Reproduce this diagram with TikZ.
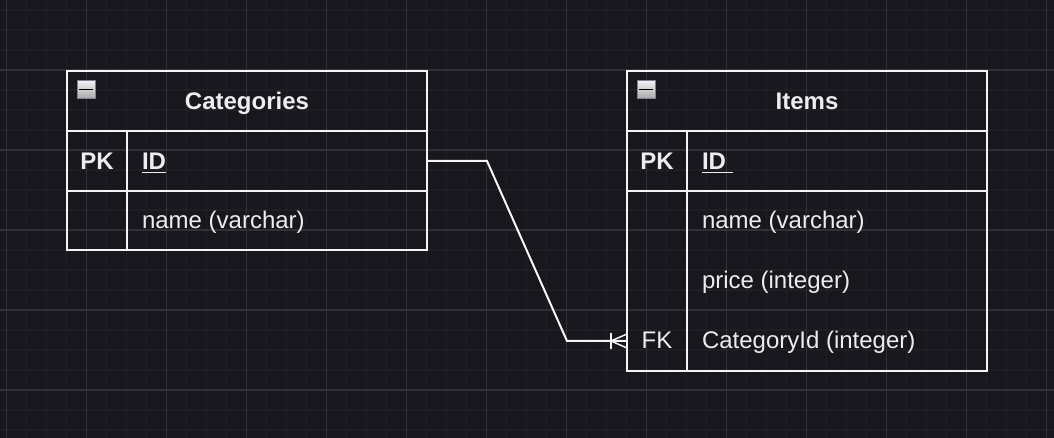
\documentclass[tikz,border=0pt]{standalone}
\usepackage{fontspec}
\setmainfont{Liberation Sans}
\usetikzlibrary{calc}
\definecolor{bgc}{HTML}{18171D}
\definecolor{minorc}{HTML}{1F1E24}
\definecolor{majorc}{HTML}{323137}
\definecolor{linec}{HTML}{F4F4F4}
\definecolor{txtc}{HTML}{EDEDED}
\definecolor{icontop}{HTML}{F2F2F2}
\definecolor{iconbot}{HTML}{A8A8A8}
\definecolor{iconborder}{HTML}{7C8494}
\tikzset{
  cell/.style={draw=linec, line width=1.5pt, anchor=north west, inner sep=0pt, outer sep=0pt},
  txt/.style={text=txtc, inner sep=0pt, outer sep=0pt, font=\fontsize{18}{21}\selectfont},
  bold/.style={txt, font=\fontsize{18}{21}\selectfont\bfseries},
  conn/.style={draw=linec, line width=1.5pt},
  icon/.style={draw=iconborder, line width=1pt, top color=icontop, bottom color=iconbot, anchor=north west, minimum width=13.5pt, minimum height=13.5pt, inner sep=0pt}
}
\begin{document}
\begin{tikzpicture}[x=0.75pt, y=-0.75pt]
\fill[bgc] (0,0) rectangle (1054,438);
\useasboundingbox (0,0) rectangle (1054,438);
% grid
\foreach \i in {0,...,52} {\draw[minorc, line width=1pt] ({6.7+20*\i},0) -- ({6.7+20*\i},438);}
\foreach \j in {0,...,21} {\draw[minorc, line width=1pt] (0,{10+20*\j}) -- (1054,{10+20*\j});}
\foreach \i in {0,...,13} {\draw[majorc, line width=1pt] ({6.7+80*\i},0) -- ({6.7+80*\i},438);}
\foreach \j in {0,...,5} {\draw[majorc, line width=1pt] (0,{70+80*\j}) -- (1054,{70+80*\j});}

% Categories table
\node[cell, minimum width=270pt, minimum height=45pt] (cathead) at (67,71) {};
\node[cell, minimum width=45pt, minimum height=45pt] (catpkk) at (67,131) {};
\node[cell, minimum width=225pt, minimum height=45pt] (catpkf) at (127,131) {};
\node[cell, minimum width=45pt, minimum height=44.25pt] (catnk) at (67,191) {};
\node[cell, minimum width=225pt, minimum height=44.25pt] (catnf) at (127,191) {};
\node[icon] (caticon) at (76.5,80) {};
\draw[black, line width=1.2pt] ([xshift=2pt]caticon.west) -- ([xshift=-2pt]caticon.east);
\node[bold, anchor=base] (cattitle) at (247,109.5) {Categories};
\node[bold, anchor=base] (catpkt) at (97,169.5) {PK};
\node[bold, anchor=base west] (catidt) at (142,169.5) {ID};
\draw[txtc, line width=1.2pt] ([yshift=-2.3pt]catidt.base west) -- ([yshift=-2.3pt]catidt.base east);
\node[txt, anchor=base west] (catname) at (142,229) {name (varchar)};

% Items table
\node[cell, minimum width=270pt, minimum height=45pt] (ithead) at (627,71) {};
\node[cell, minimum width=45pt, minimum height=45pt] (itpkk) at (627,131) {};
\node[cell, minimum width=225pt, minimum height=45pt] (itpkf) at (687,131) {};
\node[cell, minimum width=45pt, minimum height=135pt] (itkeys) at (627,191) {};
\node[cell, minimum width=225pt, minimum height=135pt] (itfields) at (687,191) {};
\node[icon] (iticon) at (636.5,80) {};
\draw[black, line width=1.2pt] ([xshift=2pt]iticon.west) -- ([xshift=-2pt]iticon.east);
\node[bold, anchor=base] (ittitle) at (807,109.5) {Items};
\node[bold, anchor=base] (itpkt) at (657,169.5) {PK};
\node[bold, anchor=base west] (itidt) at (702,169.5) {ID~\mbox{}};
\draw[txtc, line width=1.2pt] ([yshift=-2.3pt]itidt.base west) -- ([yshift=-2.3pt]itidt.base east);
\node[txt, anchor=base west] (itname) at (702,229) {name (varchar)};
\node[txt, anchor=base west] (itprice) at (702,289) {price (integer)};
\node[txt, anchor=base west] (itcat) at (702,349) {CategoryId (integer)};
\node[txt, anchor=base] (itfk) at (657,349) {FK};

% connector
\coordinate (fkend) at ($(itkeys.south west)+(0,-30)$);
\draw[conn] (catpkf.east) -- ++(60,0) -- ($(fkend)+(-60,0)$) -- (fkend);
\draw[conn, line width=1.1pt] ($(fkend)+(-16,-8)$) -- ($(fkend)+(-16,8)$);
\draw[conn, line width=1.1pt] ($(fkend)+(0,-7)$) -- ($(fkend)+(-16,0)$) -- ($(fkend)+(0,7)$);
\end{tikzpicture}
\end{document}
